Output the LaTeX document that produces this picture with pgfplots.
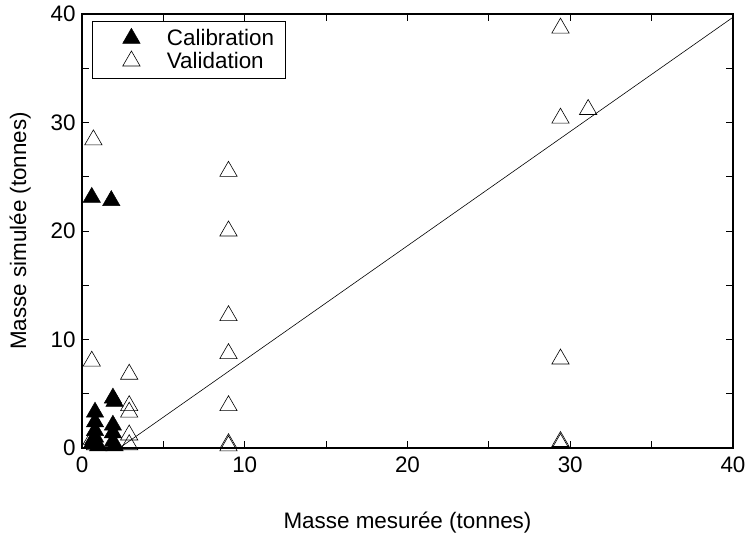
\documentclass[border=0pt]{standalone}
\usepackage{fontspec}
\setmainfont{Liberation Sans}
\usepackage{pgfplots}
\pgfplotsset{compat=1.18}
\pgfplotsset{
  myleg/.style={legend image code/.code={\path[draw=none] (0bp,0bp) -- (63bp,0bp); \draw[##1] plot coordinates {(30bp,0bp)};}},
}
\begin{document}
\begin{tikzpicture}
\begin{axis}[
  name=ax,
  scale only axis,
  width=651bp, height=434bp,
  xmin=0, xmax=40, ymin=0, ymax=40,
  xtick={0,10,20,30,40}, ytick={0,10,20,30,40},
  minor tick num=1,
  tick align=inside,
  major tick length=7bp, minor tick length=7bp,
  axis line style={line width=1.1pt},
  every tick/.style={black, line width=0.8pt},
  /pgf/number format/assume math mode=true,
  ticklabel style={font=\fontsize{22.5}{26}\selectfont},
  label style={font=\fontsize{22.5}{26}\selectfont},
  yticklabel style={xshift=-3bp},
  xticklabel style={yshift=-5bp},
  xlabel={Masse mesurée (tonnes)},
  ylabel={Masse simulée (tonnes)},
  xlabel style={yshift=-33bp},
  ylabel style={yshift=13bp},
  clip mode=individual,
  legend style={at={(0.0154,0.985)}, anchor=north west, font=\fontsize{22.5}{26}\selectfont, draw=black, line width=0.8pt, inner xsep=9bp, inner ysep=6bp, nodes={inner sep=2.5bp}},
  legend cell align=left,
]
\addplot[only marks, mark=triangle*, mark size=10bp, mark options={fill=black, draw=black, line width=0.5pt}, myleg] coordinates {
(0.6,23.1) (1.8,22.8) (1.9,4.6) (2.0,4.3) (0.8,3.3) (0.8,2.4) (0.8,1.6) (0.8,1.0)
(0.6,0.4) (1.0,0.2) (1.9,2.1) (1.9,1.4) (1.9,0.6) (2.0,0.2) (0.7,0.8)
};
\addlegendentry{Calibration\hspace{8bp}}
\addplot[only marks, mark=triangle, mark size=10bp, mark options={draw=black, line width=0.6pt}, myleg] coordinates {
(0.7,28.4) (0.6,8.0) (0.6,0.8) (0.8,0.3) (2.9,6.8) (2.9,3.9) (2.9,3.3) (2.9,1.2) (2.9,0.3)
(9.0,25.5) (9.0,20.0) (9.0,12.2) (9.0,8.7) (9.0,3.9) (9.0,0.4) (9.0,0.2)
(29.4,38.7) (29.4,30.4) (31.1,31.2) (29.4,8.2) (29.4,0.6) (29.4,0.4)
};
\addlegendentry{Validation}
\addplot[black, line width=0.6pt, forget plot] coordinates {(2.3,0.0) (40,39.7)};
\end{axis}
\pgfresetboundingbox
\path (ax.south west) -- ++(-82bp,-90bp);
\path (ax.north east) -- ++(13bp,14bp);
\end{tikzpicture}
\end{document}
